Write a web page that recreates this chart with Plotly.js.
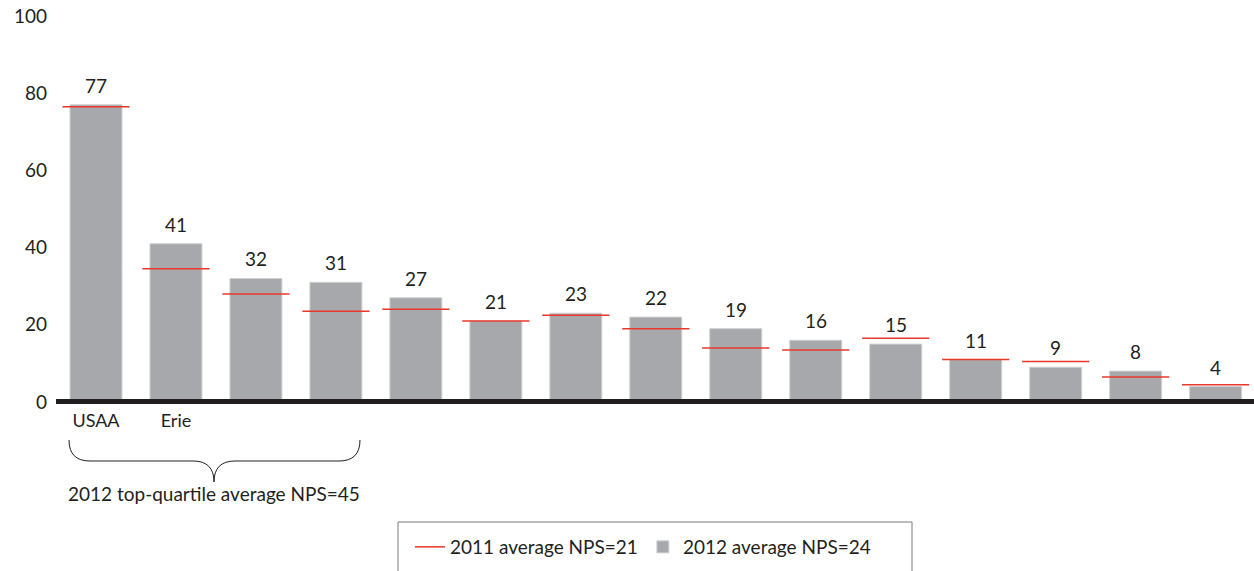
<!DOCTYPE html>
<html>
<head>
<meta charset="utf-8">
<script src="https://cdn.plot.ly/plotly-3.0.1.min.js"></script>
<style>
  html, body { margin: 0; padding: 0; background: #fff; }
  #chart { width: 1254px; height: 571px; }
</style>
</head>
<body>
<div id="chart"></div>
<script>
// Insurer NPS, 2012 scores with 2011 scores as reference lines
const categories = ["USAA", "Erie", "", "", "", "", "", "", "", "", "", "", "", "", ""];
const nps2012 = [77, 41, 32, 31, 27, 21, 23, 22, 19, 16, 15, 11, 9, 8, 4];
const nps2011 = [76.5, 34.5, 28, 23.5, 24, 21, 22.5, 19, 14, 13.5, 16.5, 11, 10.5, 6.5, 4.5];
const yTicks = [0, 20, 40, 60, 80, 100];
const legendNames = ["2011 average NPS=21", "2012 average NPS=24"];
const braceLabel = "2012 top-quartile average NPS=45";

const W = 1254, H = 571;
const M = { l: 56, r: 0, t: 16, b: 169 };
const plotW = W - M.l - M.r, plotH = H - M.t - M.b;
const px = x => (x - M.l) / plotW;          // page x -> paper x
const py = y => (H - M.b - y) / plotH;       // page y -> paper y

const FONT = "Lato, 'Open Sans', sans-serif";
const INK = "#231f20";
const GREY = "#a7a8ab";
const RED = "#e8372c";

const idx = categories.map((_, i) => i);

// 2011 markers: short horizontal segments across each category
const half = 0.42;
const lineX = [], lineY = [];
nps2011.forEach((v, i) => { lineX.push(i - half, i + half, null); lineY.push(v, v, null); });

const bars = {
  type: "bar", x: idx, y: nps2012, name: legendNames[1],
  marker: { color: GREY, line: { color: "#cfd0d2", width: 1 } },
  width: 0.65, hoverinfo: "skip", legendrank: 2
};
const lines2011 = {
  type: "scatter", mode: "lines", x: lineX, y: lineY, name: legendNames[0],
  line: { color: RED, width: 1.5 }, hoverinfo: "skip", legendrank: 1
};

const valueLabels = nps2012.map((v, i) => ({
  x: i, y: v, xref: "x", yref: "y", text: String(v), showarrow: false,
  yanchor: "bottom", yshift: 6, font: { family: FONT, size: 19, color: INK }
}));

// brace under the top-quartile group
const P = (x, y) => `${px(x)},${py(y)}`;
const bracePath = `M ${P(69,440)} Q ${P(69,461)} ${P(90,461)} L ${P(193,461)} Q ${P(214,461)} ${P(214,482)}` +
                  ` Q ${P(214,461)} ${P(235,461)} L ${P(339,461)} Q ${P(360,461)} ${P(360,440)}`;

const layout = {
  width: W, height: H, margin: M,
  paper_bgcolor: "#fff", plot_bgcolor: "#fff",
  font: { family: FONT, color: INK, size: 18 },
  bargap: 0.35, showlegend: true,
  xaxis: {
    range: [-0.5, 14.48], tickvals: idx, ticktext: categories,
    showgrid: false, zeroline: false, showline: false, ticks: "",
    tickfont: { family: FONT, size: 18, color: INK }, ticklabelstandoff: 6
  },
  yaxis: {
    range: [0, 100], tickvals: yTicks, showgrid: false, zeroline: false, showline: false,
    ticks: "", tickfont: { family: FONT, size: 19, color: INK }, ticklabelstandoff: 8
  },
  legend: {
    orientation: "h", x: px(410), xanchor: "left", y: py(528), yanchor: "top",
    font: { family: FONT, size: 19, color: INK }, bgcolor: "rgba(0,0,0,0)",
    borderwidth: 0, itemclick: false, itemdoubleclick: false
  },
  shapes: [
    // heavy baseline
    { type: "line", xref: "paper", yref: "paper", x0: 0, x1: 1, y0: py(401.5), y1: py(401.5),
      line: { color: INK, width: 5 }, layer: "above" },
    { type: "path", xref: "paper", yref: "paper", path: bracePath,
      line: { color: INK, width: 1 } },
    { type: "rect", xref: "paper", yref: "paper", x0: px(398), x1: px(912), y0: py(522), y1: py(576),
      line: { color: "#7a7a7a", width: 1 } }
  ],
  annotations: valueLabels.concat([
    { xref: "paper", yref: "paper", x: px(214), y: py(493), text: braceLabel, showarrow: false,
      xanchor: "center", yanchor: "middle", font: { family: FONT, size: 19, color: INK } }
  ])
};

Plotly.newPlot("chart", [bars, lines2011], layout, { displayModeBar: false, staticPlot: true });
</script>
</body>
</html>
